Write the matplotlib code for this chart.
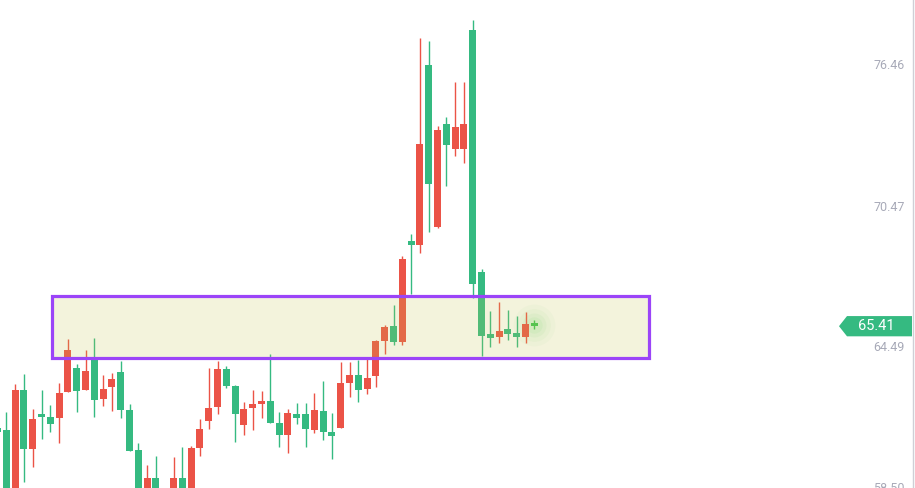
import matplotlib
matplotlib.use("Agg")
import matplotlib.pyplot as plt
import matplotlib.transforms as mtransforms
from matplotlib.patches import Rectangle, Polygon

# OHLC (one candle per bar, left to right)
opens = [61.09, 61.00, 58.20, 62.70, 60.21, 61.68, 61.55, 61.51, 62.62, 63.64,
         62.70, 63.98, 62.32, 62.83, 63.47, 61.85, 60.15, 58.10, 58.97, 58.20,
         57.90, 58.97, 58.00, 60.25, 61.40, 61.99, 63.59, 62.87, 61.23, 61.95,
         62.12, 62.23, 61.30, 60.80, 61.68, 61.68, 61.02, 61.81, 60.92, 61.10,
         63.01, 63.34, 62.76, 63.31, 64.80, 65.42, 64.75, 69.03, 68.86, 76.50,
         69.64, 74.00, 72.94, 72.94, 77.99, 67.71, 65.08, 64.97, 65.29, 65.12,
         64.97, 65.55]
highs = [61.30, 61.77, 62.96, 63.38, 61.90, 62.70, 62.06, 63.00, 64.87, 63.81,
         64.40, 64.91, 63.34, 63.42, 63.93, 62.11, 60.45, 59.52, 59.90, 58.30,
         59.86, 60.28, 60.32, 61.47, 63.64, 63.93, 63.72, 62.91, 62.19, 62.70,
         62.66, 64.23, 61.77, 61.90, 62.15, 62.15, 62.57, 63.08, 61.73, 63.89,
         63.89, 63.98, 64.06, 64.83, 65.46, 66.31, 68.39, 69.33, 77.65, 77.52,
         73.91, 74.29, 75.78, 75.78, 78.41, 67.84, 66.06, 66.44, 66.10, 65.85,
         66.02, 65.67]
lows = [60.70, 57.60, 57.90, 58.81, 59.45, 60.63, 60.92, 60.45, 62.60, 61.77,
        62.68, 61.55, 62.02, 61.81, 61.51, 60.10, 57.60, 57.80, 57.50, 57.30,
        57.60, 57.80, 57.70, 59.91, 61.05, 61.70, 62.80, 60.51, 60.80, 61.02,
        61.51, 61.30, 60.29, 60.04, 61.27, 60.29, 60.89, 60.59, 59.78, 61.09,
        62.42, 62.21, 62.54, 62.84, 64.24, 64.63, 64.63, 66.78, 68.53, 69.42,
        69.59, 71.38, 72.65, 72.35, 66.62, 64.16, 64.54, 64.71, 64.84, 64.54,
        64.71, 65.29]
closes = [60.92, 58.00, 62.70, 60.21, 61.47, 61.57, 61.26, 62.57, 64.40, 62.66,
          63.51, 62.28, 62.74, 63.17, 61.85, 60.11, 58.00, 58.97, 57.90, 57.60,
          58.97, 58.10, 60.24, 61.05, 61.94, 63.59, 62.88, 61.70, 61.90, 62.11,
          62.23, 61.31, 60.80, 61.73, 61.53, 61.06, 61.85, 60.93, 60.76, 63.00,
          63.34, 62.71, 63.21, 64.78, 65.38, 64.75, 68.26, 68.86, 73.15, 71.46,
          73.74, 73.11, 73.87, 74.00, 67.22, 65.01, 64.92, 65.21, 65.09, 64.97,
          65.52, 65.41]

tick_values = [76.46, 70.47, 64.49, 58.50]
last_price = 65.41

# highlighted zone (price range and bar range)
zone_low, zone_high = 64.08, 66.71
zone_start, zone_end = 6.14, 74.0

up_color = "#EB5347"
down_color = "#35BA81"
last_color = "#3DC451"

fig = plt.figure(figsize=(9.15, 4.88), dpi=100)
ax = fig.add_axes([0, 0, 1, 1])
ax.set_xlim(0.284, 104.26)
ax.set_ylim(58.54, 79.26)
ax.axis("off")

n = len(opens)
for i in range(n):
    o, h, l, c = opens[i], highs[i], lows[i], closes[i]
    col = up_color if c > o else down_color
    if i == n - 1:
        col = last_color
    ax.vlines(i, l, h, color=col, linewidth=1.0, zorder=2)
    bottom = min(o, c)
    height = max(abs(c - o), 0.05)
    ax.bar(i, height, bottom=bottom, width=0.78, color=col, linewidth=0, zorder=2)

# glow on the latest candle
for s, a in [(900, 0.05), (550, 0.07), (300, 0.09), (140, 0.12)]:
    ax.scatter([n - 1], [last_price + 0.05], s=s, color="#7FE08A", alpha=a,
               linewidths=0, zorder=1)

# zone box: translucent fill on top of candles, then the purple border
ax.add_patch(Rectangle((zone_start, zone_low), zone_end - zone_start, zone_high - zone_low,
                       facecolor="#C3C350", alpha=0.2, edgecolor="none", zorder=3))
ax.add_patch(Rectangle((zone_start, zone_low), zone_end - zone_start, zone_high - zone_low,
                       facecolor="none", edgecolor="#9B44F8", linewidth=2.3, zorder=4))

# right price scale
trans = mtransforms.blended_transform_factory(ax.transAxes, ax.transData)
for v in tick_values:
    ax.text(0.989, v, f"{v:.2f}", transform=trans, ha="right", va="center",
            fontsize=9, color="#A8AAB8", family="Roboto")
ax.plot([0.998, 0.998], [0, 1], transform=ax.transAxes, color="#CFCFD6",
        linewidth=1, clip_on=False)

# current price tag
half = 0.43
tag = Polygon([(839 / 915, last_price), (847 / 915, last_price + half),
               (912 / 915, last_price + half), (912 / 915, last_price - half),
               (847 / 915, last_price - half)],
              closed=True, transform=trans, facecolor="#35BA81", edgecolor="none",
              zorder=5, clip_on=False)
ax.add_patch(tag)
ax.text(876 / 915, last_price, f"{last_price:.2f}", transform=trans, ha="center",
        va="center", fontsize=10.5, color="white", family="Roboto", zorder=6)

fig.savefig("out.png", dpi=100)
